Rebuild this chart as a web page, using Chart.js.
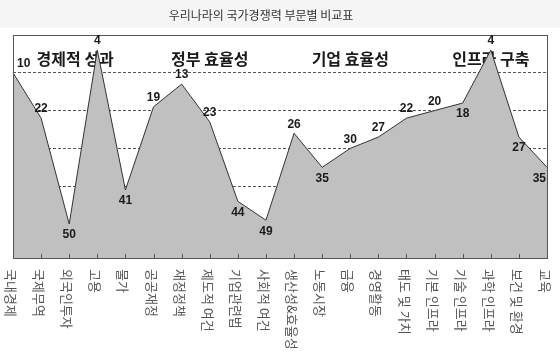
<!DOCTYPE html>
<html>
<head>
<meta charset="utf-8">
<script src="https://cdn.jsdelivr.net/npm/chart.js"></script>
<style>
  html, body { margin: 0; padding: 0; background: #ffffff; }
  canvas { display: block; }
</style>
</head>
<body>
<canvas id="rankChart" width="560" height="362"></canvas>
<script>
// --- data ---
const chartTitle = '우리나라의 국가경쟁력 부문별 비교표';
const categories = ['국내경제', '국제무역', '외국인투자', '고용', '물가',
    '공공재정', '재정정책', '제도적 여건', '기업관련법', '사회적 여건',
    '생산성&효율성', '노동시장', '금융', '경영활동', '태도 및 가치',
    '기본 인프라', '기술 인프라', '과학 인프라', '보건 및 환경', '교육'];
const ranks = [10, 22, 50, 4, 41, 19, 13, 23, 44, 49, 26, 35, 30, 27, 22, 20, 18, 4, 27, 35];
const groups = ['경제적 성과', '정부 효율성', '기업 효율성', '인프라 구축'];
const groupSize = 5;
const gridValues = [10, 20, 30, 40, 50];

const KR = '"Noto Sans CJK KR", "Noto Sans", sans-serif';

// background, frame, inner tick marks, labels
const decorations = {
    id: 'decorations',
    beforeDraw(chart) {
        const c = chart.ctx;
        c.save();
        c.fillStyle = '#ffffff';
        c.fillRect(0, 0, chart.width, chart.height);
        c.fillStyle = '#f5f5f5';
        c.fillRect(0, 0, chart.width, 28);
        c.fillStyle = '#333333';
        c.font = '12px ' + KR;
        c.textAlign = 'center';
        c.textBaseline = 'middle';
        c.fillText(chartTitle, 261, 15);
        c.restore();
    },
    beforeDatasetsDraw(chart) {
        const c = chart.ctx;
        const x = chart.scales.x;
        c.save();
        c.fillStyle = '#1a1a1a';
        c.font = 'bold 16px ' + KR;
        c.textAlign = 'center';
        c.textBaseline = 'middle';
        groups.forEach((g, i) => {
            const a = x.getPixelForValue(i * groupSize);
            const b = x.getPixelForValue(i * groupSize + groupSize - 1);
            c.fillText(g, (a + b) / 2 + (i === 0 ? 6 : 0), 59);
        });
        c.restore();
    },
    afterDatasetsDraw(chart) {
        const c = chart.ctx;
        const area = chart.chartArea;
        const x = chart.scales.x;
        const pts = chart.getDatasetMeta(0).data;
        c.save();

        // frame
        c.strokeStyle = '#555555';
        c.lineWidth = 1;
        c.strokeRect(Math.round(area.left) + 0.5, Math.round(area.top) + 0.5,
            Math.round(area.right - area.left), Math.round(area.bottom - area.top));

        // tick marks pointing into the plot
        c.beginPath();
        categories.forEach((_, i) => {
            const px = Math.round(x.getPixelForTick(i)) + 0.5;
            c.moveTo(px, area.bottom);
            c.lineTo(px, area.bottom - 4);
        });
        c.stroke();

        // value labels
        c.fillStyle = '#1a1a1a';
        c.font = 'bold 12px "Liberation Sans", Arial, sans-serif';
        pts.forEach((p, i) => {
            const v = ranks[i];
            const prev = i > 0 ? ranks[i - 1] : ranks[i + 1];
            const next = i < ranks.length - 1 ? ranks[i + 1] : ranks[i - 1];
            const up = v <= (prev + next) / 2 + 1;
            let tx = p.x;
            c.textAlign = 'center';
            if (i === 0) { c.textAlign = 'left'; tx = p.x + 4; }
            if (i === ranks.length - 1) { c.textAlign = 'right'; tx = p.x - 1; }
            if (up) {
                c.textBaseline = 'bottom';
                c.fillText(String(v), tx, p.y - 3);
            } else {
                c.textBaseline = 'top';
                c.fillText(String(v), tx, p.y + 5);
            }
        });

        // category labels, rotated clockwise
        c.fillStyle = '#555555';
        c.font = '13px ' + KR;
        c.textAlign = 'left';
        c.textBaseline = 'middle';
        categories.forEach((label, i) => {
            const px = x.getPixelForTick(i) - 2;
            c.save();
            c.translate(px, area.bottom + 11);
            c.rotate(Math.PI / 2);
            c.fillText(label, 0, 0);
            c.restore();
        });
        c.restore();
    }
};

new Chart(document.getElementById('rankChart'), {
    type: 'line',
    data: {
        labels: categories,
        datasets: [{
            data: ranks,
            borderColor: '#333333',
            borderWidth: 1,
            backgroundColor: '#c0c0c0',
            fill: 'start',
            tension: 0,
            pointRadius: 0
        }]
    },
    options: {
        responsive: false,
        animation: false,
        layout: { padding: { left: 13, right: 13, top: 35, bottom: 96 } },
        plugins: {
            legend: { display: false },
            title: { display: false },
            tooltip: { enabled: false }
        },
        scales: {
            x: {
                type: 'category',
                offset: false,
                grid: { display: false },
                border: { display: false },
                ticks: { display: false }
            },
            y: {
                reverse: true,
                min: 0,
                max: 59,
                ticks: { display: false, stepSize: 10 },
                border: { display: false, dash: [3, 2] },
                grid: {
                    drawTicks: false,
                    lineWidth: 1,
                    color: (ctx) => gridValues.includes(ctx.tick && ctx.tick.value) ? '#555555' : 'rgba(0,0,0,0)'
                }
            }
        }
    },
    plugins: [decorations]
});
</script>
</body>
</html>
